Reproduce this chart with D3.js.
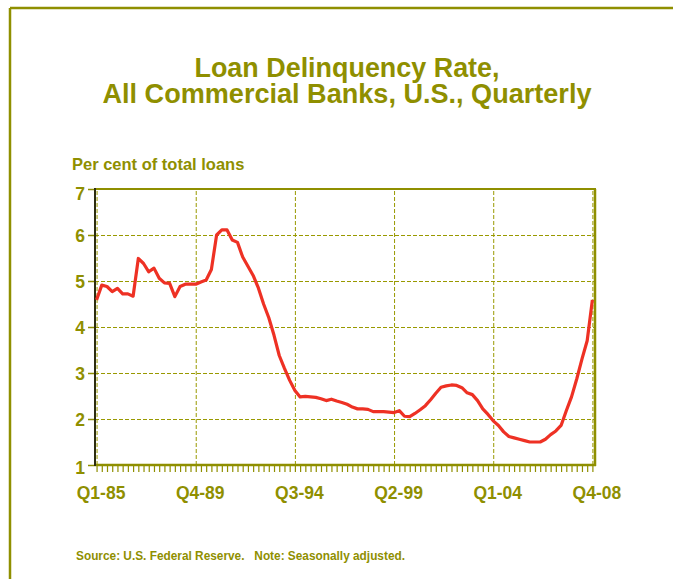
<!DOCTYPE html>
<html>
<head>
<meta charset="utf-8">
<script src="https://d3js.org/d3.v7.min.js"></script>
<style>
  body { margin: 0; background: #fff; }
  svg { display: block; font-family: "Liberation Sans", Arial, sans-serif; font-weight: bold; }
  .grid line { stroke: #999900; stroke-width: 1; stroke-dasharray: 4 2; }
  .grid path { display: none; }
</style>
</head>
<body>
<script>
// quarterly delinquency rate, Q1-85 .. Q4-08 (per cent of total loans)
var rates = [
  4.59, 4.91, 4.88, 4.77, 4.84, 4.72, 4.72, 4.67, 5.49, 5.38,
  5.20, 5.28, 5.06, 4.96, 4.95, 4.66, 4.88, 4.93, 4.93, 4.93,
  4.98, 5.02, 5.25, 6.00, 6.11, 6.11, 5.89, 5.84, 5.52, 5.32,
  5.12, 4.85, 4.50, 4.20, 3.82, 3.38, 3.10, 2.84, 2.62, 2.48,
  2.49, 2.48, 2.47, 2.44, 2.40, 2.43, 2.39, 2.36, 2.32, 2.26,
  2.22, 2.22, 2.21, 2.16, 2.16, 2.16, 2.15, 2.14, 2.18, 2.06,
  2.05, 2.12, 2.20, 2.29, 2.42, 2.56, 2.69, 2.72, 2.74, 2.73,
  2.68, 2.57, 2.53, 2.40, 2.22, 2.10, 1.96, 1.86, 1.72, 1.62,
  1.59, 1.56, 1.53, 1.50, 1.50, 1.50, 1.56, 1.66, 1.74, 1.86,
  2.18, 2.48, 2.87, 3.30, 3.70, 4.59
];

var quarterLabels = ["Q1-85", "Q4-89", "Q3-94", "Q2-99", "Q1-04", "Q4-08"];
var labelIndex = [0, 19, 38, 57, 76, 95];
var yTicks = [1, 2, 3, 4, 5, 6, 7];

var olive = "#8f8f00";
var W = 673, H = 579;

var svg = d3.select("body").append("svg")
    .attr("width", W)
    .attr("height", H);

// outer frame (only top and left show)
svg.append("line").attr("x1", 10).attr("y1", 8).attr("x2", W).attr("y2", 8)
    .attr("stroke", olive).attr("stroke-width", 2.5);
svg.append("line").attr("x1", 10).attr("y1", 8).attr("x2", 10).attr("y2", H)
    .attr("stroke", olive).attr("stroke-width", 2.5);

// titles
svg.append("text").attr("x", 347).attr("y", 77)
    .attr("text-anchor", "middle").attr("fill", olive)
    .style("font-size", "27px")
    .attr("textLength", 305).attr("lengthAdjust", "spacingAndGlyphs")
    .text("Loan Delinquency Rate,");
svg.append("text").attr("x", 347).attr("y", 103)
    .attr("text-anchor", "middle").attr("fill", olive)
    .style("font-size", "27px")
    .attr("textLength", 489).attr("lengthAdjust", "spacingAndGlyphs")
    .text("All Commercial Banks, U.S., Quarterly");

svg.append("text").attr("x", 72).attr("y", 170)
    .attr("fill", olive).style("font-size", "16.5px")
    .text("Per cent of total loans");

svg.append("text").attr("x", 76).attr("y", 560)
    .attr("fill", olive).style("font-size", "12px")
    .attr("textLength", 329).attr("lengthAdjust", "spacingAndGlyphs")
    .text("Source: U.S. Federal Reserve.\u00a0\u00a0\u00a0Note: Seasonally adjusted.");

var plotLeft = 95, plotRight = 595, plotTop = 189, plotBottom = 465;

var x = d3.scaleLinear()
    .domain([-0.3, 95.5])
    .range([plotLeft, plotRight]);

var y = d3.scaleLinear()
    .domain([1, 7])
    .range([plotBottom, plotTop]);

var g = svg.append("g");

// gridlines
g.append("g")
    .attr("class", "grid")
    .attr("transform", "translate(" + plotLeft + ",0)")
    .call(d3.axisLeft(y).tickValues([2, 3, 4, 5, 6]).tickSize(-(plotRight - plotLeft)).tickFormat(""));

g.append("g")
    .attr("class", "grid")
    .attr("transform", "translate(0," + plotBottom + ")")
    .call(d3.axisBottom(x).tickValues(labelIndex).tickSize(-(plotBottom - plotTop)).tickFormat(""));

// quarterly ticks under the axis
var tickAxis = g.append("g")
    .attr("transform", "translate(0," + plotBottom + ")")
    .call(d3.axisBottom(x).tickValues(d3.range(rates.length)).tickSize(7).tickFormat(""));
tickAxis.select(".domain").remove();
tickAxis.selectAll("line").attr("stroke", olive).attr("stroke-width", 1.2);

// x labels
var xLab = g.append("g")
    .attr("transform", "translate(0," + plotBottom + ")")
    .call(d3.axisBottom(x).tickValues(labelIndex).tickSize(0)
        .tickFormat(function (d, i) { return quarterLabels[i]; }));
xLab.select(".domain").remove();
xLab.selectAll("text")
    .attr("fill", olive)
    .attr("y", 34).attr("dy", 0).attr("dx", 4)
    .style("font-size", "17.5px")
    .style("font-family", "'Liberation Sans', Arial, sans-serif")
    .style("font-weight", "bold");

// y axis ticks and labels
var yAx = g.append("g")
    .attr("transform", "translate(" + plotLeft + ",0)")
    .call(d3.axisLeft(y).tickValues(yTicks).tickSize(7).tickPadding(3).tickFormat(d3.format("d")));
yAx.select(".domain").remove();
yAx.selectAll("line").attr("stroke", olive).attr("stroke-width", 1.5);
yAx.selectAll("text")
    .attr("fill", olive)
    .attr("dy", function (d) { return d === 7 ? "0.62em" : (d === 1 ? "0.5em" : "0.36em"); })
    .style("font-size", "17.5px")
    .style("font-family", "'Liberation Sans', Arial, sans-serif")
    .style("font-weight", "bold");

// frame of the plot
g.append("line").attr("x1", plotLeft).attr("x2", plotRight + 1).attr("y1", plotTop).attr("y2", plotTop)
    .attr("stroke", olive).attr("stroke-width", 2);
g.append("line").attr("x1", plotRight).attr("x2", plotRight).attr("y1", plotTop).attr("y2", plotBottom + 1)
    .attr("stroke", olive).attr("stroke-width", 2.5);
g.append("line").attr("x1", plotLeft).attr("x2", plotRight + 1).attr("y1", plotBottom).attr("y2", plotBottom)
    .attr("stroke", olive).attr("stroke-width", 2.5);
g.append("line").attr("x1", plotLeft).attr("x2", plotLeft).attr("y1", plotTop - 1).attr("y2", plotBottom + 1)
    .attr("stroke", "#2d2d10").attr("stroke-width", 2);

// the rate line
var line = d3.line()
    .x(function (d, i) { return x(i); })
    .y(function (d) { return y(d); });

g.append("path")
    .datum(rates)
    .attr("fill", "none")
    .attr("stroke", "#ee3124")
    .attr("stroke-width", 3.2)
    .attr("stroke-linejoin", "round")
    .attr("d", line);
</script>
</body>
</html>
